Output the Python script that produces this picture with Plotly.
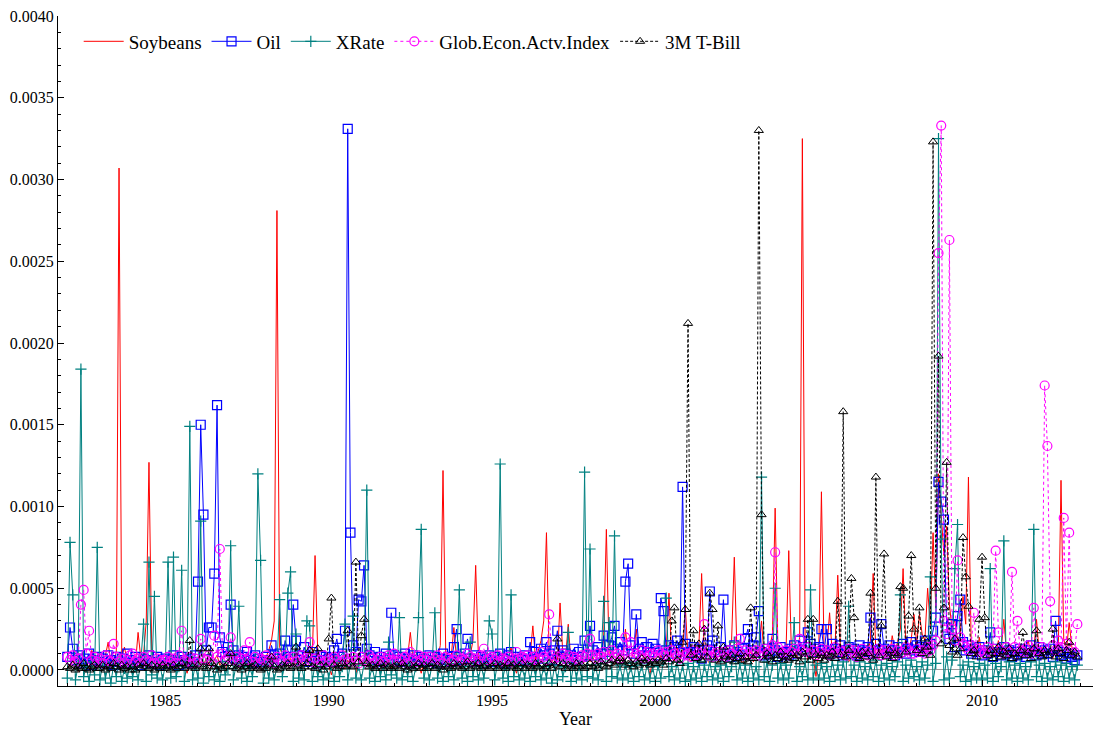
import plotly.graph_objects as go

# Monthly conditional variance estimates, Jan 1982 - Dec 2012.
# One row per calendar year (12 months each); values are in units of 1e-5.
UNIT = 1e-5
FIRST_YEAR = 1982
LAST_YEAR = 2012

SOYBEANS = [
    4, 2, 6, 3, -1, 5, 8, 3, 1, 12, 6, 2,            # 1982
    3, 5, 9, 17, 4, 6, 11, 307, 8, 14, 5, 2,         # 1983
    6, 3, 23, 7, 9, 30, 127, 12, 4, 6, 2, 5,         # 1984
    3, 7, 2, 5, 1, 4, 8, 3, -2, 5, 6, 3,             # 1985
    2, 5, 3, 7, 4, 1, 6, 9, 3, 5, -1, 4,             # 1986
    6, 3, 8, 2, 5, 4, 10, 7, 3, 2, 6, 4,             # 1987
    5, 8, 12, 18, 30, 281, 14, 9, 6, 4, 7, 3,        # 1988
    4, 6, 3, 9, 5, 12, 8, 70, 10, 5, 2, 6,           # 1989
    3, -3, 5, 2, 7, 4, 1, 6, 3, 8, -2, 4,            # 1990
    5, 2, 6, 3, -1, 4, 7, 2, 5, 3, 6, 1,             # 1991
    4, 7, 2, 5, 3, 8, 23, 6, 2, 4, -2, 5,            # 1992
    3, 6, 4, 9, 7, 15, 122, 11, 5, 8, 26, 6,         # 1993
    4, 2, 7, 5, 9, 18, 64, 8, 3, 6, 2, 4,            # 1994
    5, 3, 6, 2, 8, 4, 7, 14, 3, -2, 5, 6,            # 1995
    4, 7, 9, 27, 6, 12, 18, 30, 84, 9, 5, 8,         # 1996
    6, 41, 10, 7, 28, 5, 3, 8, 4, 2, 6, 9,           # 1997
    5, 8, 4, 12, 7, 19, 86, 10, 6, 3, 8, 5,          # 1998
    4, 25, 9, 6, 11, 25, 7, 3, 8, 5, -3, 6,          # 1999
    7, 4, 9, 6, 12, 47, 8, 5, 14, 6, 10, 39,         # 2000
    8, 5, 12, 7, 15, 59, 9, 6, 4, 11, 7, 5,          # 2001
    6, 9, 5, 13, 18, 69, 10, 7, 4, 8, 6, 12,         # 2002
    5, 8, 11, 30, 7, 9, 14, 22, 99, 15, 6, 10,       # 2003
    12, 73, 9, 14, 8, 20, 325, 18, 6, 11, 7, -4,     # 2004
    10, 109, 8, 13, 35, 9, 14, 58, 12, 6, 9, 5,      # 2005
    7, 12, 5, 9, 14, 8, 11, 18, 59, 10, 6, 13,       # 2006
    9, 14, 8, 21, 12, 17, 25, 62, 15, 11, 19, 34,    # 2007
    16, 34, 22, 18, 50, 27, 84, 38, 120, 95, 70, 88, # 2008
    40, 25, 31, 18, 22, 45, 28, 118, 16, 12, 9, 20,  # 2009
    8, 13, 6, 11, 15, 9, 18, 12, 31, 10, 7, 14,      # 2010
    11, 6, 15, 9, 13, 18, 8, 12, 31, 10, 14, 7,      # 2011
    9, 13, 7, 15, 11, 116, 19, 12, 29, 14, 8, 10,    # 2012
]

OIL = [
    8, 26, 13, 6, 9, 4, 7, 5, 10, 3, 6, 8,           # 1982
    5, 7, 4, 9, 6, 3, 8, 5, 7, 4, 10, 6,             # 1983
    4, 8, 5, 3, 7, 6, 9, 4, 5, 8, 3, 6,              # 1984
    7, 4, 6, 9, 5, 3, 8, 6, 4, 7, 5, 9,              # 1985
    54, 150, 95, 12, 26, 26, 59, 162, 20, 11, 8, 14, # 1986
    40, 12, 7, 9, 5, 8, 11, 6, 4, 9, 7, 5,           # 1987
    6, 8, 5, 15, 9, 7, 10, 6, 18, 12, 8, 40,         # 1988
    18, 9, 6, 14, 8, 5, 11, 7, 4, 9, 6, 8,           # 1989
    7, 5, 12, 19, 8, 10, 24, 331, 84, 15, 11, 43,    # 1990
    42, 64, 13, 9, 7, 11, 6, 8, 5, 10, 7, 35,        # 1991
    9, 6, 8, 5, 10, 7, 4, 9, 6, 8, 5, 7,             # 1992
    6, 9, 5, 8, 4, 7, 10, 6, 8, 5, 14, 25,           # 1993
    8, 6, 10, 19, 7, 5, 9, 6, 8, 4, 7, 9,            # 1994
    5, 8, 6, 10, 7, 4, 9, 11, 6, 8, 5, 7,            # 1995
    9, 6, 17, 8, 11, 7, 13, 9, 17, 10, 6, 12,        # 1996
    24, 8, 12, 10, 7, 9, 13, 6, 11, 8, 18, 9,        # 1997
    27, 12, 9, 14, 10, 21, 11, 15, 20, 27, 13, 17,   # 1998
    12, 54, 65, 15, 10, 34, 13, 17, 9, 14, 11, 16,   # 1999
    13, 9, 44, 36, 12, 15, 10, 14, 18, 11, 112, 16,  # 2000
    10, 11, 14, 9, 13, 7, 12, 15, 48, 18, 11, 9,     # 2001
    14, 43, 10, 12, 8, 15, 11, 9, 13, 19, 25, 12,    # 2002
    15, 20, 36, 11, 9, 13, 10, 19, 12, 8, 14, 10,    # 2003
    11, 9, 13, 15, 10, 18, 12, 14, 23, 16, 11, 13,   # 2004
    14, 25, 12, 25, 10, 16, 13, 11, 15, 9, 12, 14,   # 2005
    10, 13, 9, 15, 12, 11, 14, 32, 10, 16, 12, 28,   # 2006
    13, 10, 15, 12, 9, 14, 11, 16, 10, 13, 17, 12,   # 2007
    15, 11, 14, 18, 13, 16, 24, 32, 115, 103, 92, 26,  # 2008
    19, 28, 14, 33, 43, 17, 12, 15, 10, 13, 11, 14,  # 2009
    9, 12, 10, 23, 8, 13, 11, 9, 14, 10, 12, 8,      # 2010
    11, 9, 13, 10, 8, 12, 15, 11, 9, 14, 10, 12,     # 2011
    10, 13, 8, 30, 12, 9, 11, 7, 10, 8, 6, 9,        # 2012
]

XRATE = [
    -5, 78, 46, -6, 3, 184, -4, 2, -7, 5, -3, 75,    # 1982
    -6, 4, -5, 2, -8, 3, -4, 6, -7, 1, -5, 3,        # 1983
    -4, 2, -6, 5, 28, -7, 66, -3, 45, -5, 4, -6,     # 1984
    3, 66, -5, 69, -4, 2, 61, -7, 5, 149, -6, 3,     # 1985
    -5, 91, -8, 4, -4, 6, -6, 2, -7, 5, -3, 1,       # 1986
    76, -6, 3, 39, -5, 4, -7, 2, -4, 6, 120, 67,     # 1987
    -8, 3, -5, 5, -6, 2, 43, -4, 4, 47, 60, -7,      # 1988
    22, -5, 3, -6, 30, 27, -7, 4, -4, 2, -6, 5,      # 1989
    -5, 3, -7, 6, -4, 2, 28, -6, 4, 33, -5, 3,       # 1990
    -6, 4, 110, -5, 2, -7, 5, -4, 3, -6, 17, -3,     # 1991
    4, -5, 32, -6, 3, -4, 5, -7, 2, 32, 86, -5,      # 1992
    3, -6, 4, 35, -5, 2, -7, 6, -4, 3, -6, 4,        # 1993
    49, -5, 2, -7, 17, -4, 5, -6, 3, -5, 4, 30,      # 1994
    22, -6, 4, 126, -5, 3, -7, 46, -4, 5, -6, 2,     # 1995
    -5, 4, -7, 3, -4, 6, -6, 2, -5, 4, -8, 3,        # 1996
    -6, 5, -4, 2, 23, -7, 4, -5, 3, -6, 121, -4,     # 1997
    74, -5, 3, -6, 4, 42, -7, 29, -4, 82, -5, 3,     # 1998
    -6, 4, -5, 2, -7, 5, -4, 3, -6, 4, -5, 2,        # 1999
    -7, 3, -5, 6, 44, -4, 2, -6, 5, -5, 3, -7,       # 2000
    4, -6, 2, -5, 5, -7, 3, -4, 6, -6, 2, -5,        # 2001
    3, -7, 5, -4, 2, 17, -6, 4, -5, 3, -7, 6,        # 2002
    -5, 2, -6, 118, -4, 5, -7, 3, 50, -5, 4, -6,     # 2003
    3, -5, 6, 29, -7, 2, -4, 5, -6, 49, -5, 3,       # 2004
    -6, 4, -5, 2, -7, 6, -4, 3, -6, 5, -5, 39,       # 2005
    -4, 3, -7, 5, -5, 2, -6, 4, -4, 6, -7, 3,        # 2006
    -5, 4, -6, 2, -4, 5, 46, -7, 3, -5, 6, -4,       # 2007
    2, -6, 5, -5, 3, 57, -7, 4, 325, 80, -6, 8,      # 2008
    -5, 6, 62, 89, -4, 3, -7, 5, -6, 2, -5, 4,       # 2009
    -6, 3, -5, 62, -7, 4, -4, 2, 79, -6, 5, -5,      # 2010
    3, -7, 4, -5, 2, -6, 5, 86, -4, 3, -7, 4,        # 2011
    -5, 2, -6, 5, -4, 3, -7, 4, -5, 2, -6, 3,        # 2012
]

GLOB_ACTIVITY = [
    8, 6, 9, 5, 7, 40, 49, 10, 24, 6, 8, 5,          # 1982
    7, 4, 9, 6, 5, 16, 8, 5, 7, 4, 6, 9,             # 1983
    10, 5, 7, 4, 8, 6, 5, 9, 4, 7, 5, 6,             # 1984
    6, 8, 5, 7, 4, 9, 24, 6, 5, 8, 4, 7,             # 1985
    5, 19, 7, 6, 9, 5, 21, 8, 74, 10, 6, 8,          # 1986
    20, 6, 8, 5, 7, 12, 6, 17, 5, 8, 4, 7,           # 1987
    6, 9, 5, 7, 4, 8, 6, 5, 9, 7, 5, 8,              # 1988
    5, 7, 9, 6, 8, 17, 5, 7, 4, 6, 9, 5,             # 1989
    7, 5, 8, 6, 4, 9, 6, 7, 5, 8, 6, 4,              # 1990
    8, 6, 5, 9, 7, 4, 6, 8, 5, 7, 9, 6,              # 1991
    10, 5, 7, 6, 8, 4, 11, 7, 5, 9, 6, 8,            # 1992
    6, 8, 5, 7, 9, 6, 4, 8, 7, 5, 6, 9,              # 1993
    5, 7, 6, 10, 8, 5, 7, 6, 9, 13, 6, 7,            # 1994
    8, 6, 9, 5, 7, 6, 8, 5, 7, 11, 6, 8,             # 1995
    7, 9, 5, 8, 6, 7, 11, 8, 6, 34, 9, 7,            # 1996
    8, 6, 10, 7, 9, 5, 8, 7, 6, 9, 8, 10,            # 1997
    19, 9, 7, 10, 8, 11, 7, 9, 12, 8, 10, 7,         # 1998
    9, 20, 11, 17, 8, 10, 9, 12, 7, 11, 9, 10,       # 1999
    8, 12, 10, 9, 11, 8, 12, 10, 9, 7, 11, 9,        # 2000
    10, 8, 12, 9, 11, 10, 28, 9, 12, 8, 10, 11,      # 2001
    9, 11, 8, 12, 10, 9, 13, 19, 10, 12, 9, 11,      # 2002
    10, 12, 9, 11, 13, 10, 12, 15, 72, 14, 11, 10,   # 2003
    12, 9, 11, 13, 10, 19, 12, 11, 14, 10, 12, 9,    # 2004
    11, 13, 10, 12, 9, 11, 14, 10, 12, 11, 9, 13,    # 2005
    10, 12, 8, 11, 13, 10, 9, 12, 11, 10, 13, 9,     # 2006
    12, 10, 11, 13, 9, 12, 10, 11, 14, 12, 10, 10,   # 2007
    13, 11, 12, 10, 14, 12, 15, 18, 255, 333, 30, 22,  # 2008
    263, 25, 18, 67, 20, 16, 14, 12, 15, 35, 13, 11, # 2009
    12, 10, 14, 11, 13, 73, 23, 12, 10, 14, 11, 60,  # 2010
    14, 30, 12, 11, 13, 15, 10, 38, 12, 11, 14, 174, # 2011
    137, 42, 15, 12, 18, 14, 93, 16, 84, 13, 11, 28, # 2012
]

TBILL_3M = [
    2, 1, 3, 0, 2, 1, 4, 1, 0, 2, 3, 1,              # 1982
    1, 3, 0, 2, 1, 4, 2, 0, 3, 1, 2, 0,              # 1983
    2, 0, 3, 1, 4, 2, 1, 3, 0, 2, 1, 3,              # 1984
    1, 2, 0, 3, 1, 2, 4, 1, 3, 18, 2, 1,             # 1985
    3, 13, 2, 1, 13, 4, 2, 0, 3, 1, 2, 4,            # 1986
    10, 2, 1, 3, 0, 2, 4, 1, 2, 3, 1, 0,             # 1987
    2, 1, 3, 8, 2, 0, 1, 3, 2, 4, 1, 2,              # 1988
    14, 3, 1, 2, 4, 12, 2, 1, 13, 3, 0, 2,           # 1989
    19, 44, 3, 1, 2, 4, 2, 24, 3, 2, 66, 5,          # 1990
    21, 31, 4, 2, 3, 1, 2, 4, 1, 3, 2, 1,            # 1991
    2, 3, 1, 4, 2, 0, 3, 1, 2, 4, 1, 3,              # 1992
    1, 2, 4, 1, 3, 2, 0, 3, 2, 1, 4, 2,              # 1993
    3, 1, 2, 5, 1, 3, 2, 4, 1, 2, 3, 1,              # 1994
    2, 4, 1, 3, 2, 1, 4, 2, 3, 1, 2, 4,              # 1995
    1, 3, 2, 1, 4, 2, 3, 1, 2, 4, 1, 3,              # 1996
    19, 2, 4, 1, 3, 2, 1, 4, 2, 3, 1, 2,             # 1997
    4, 2, 3, 1, 5, 3, 2, 4, 6, 3, 5, 7,              # 1998
    5, 3, 6, 4, 2, 5, 3, 7, 4, 6, 3, 5,              # 1999
    4, 6, 5, 3, 7, 5, 30, 38, 6, 4, 17, 37,          # 2000
    212, 9, 24, 7, 16, 6, 25, 8, 47, 37, 6, 27,      # 2001
    5, 14, 8, 6, 9, 5, 7, 10, 6, 8, 5, 38,           # 2002
    7, 9, 330, 95, 6, 10, 8, 5, 9, 7, 11, 6,         # 2003
    8, 6, 10, 7, 9, 5, 11, 8, 31, 6, 31, 9,          # 2004
    7, 10, 6, 9, 8, 11, 7, 42, 9, 158, 8, 12,        # 2005
    56, 32, 9, 7, 11, 8, 10, 47, 6, 118, 9, 27,      # 2006
    71, 8, 12, 7, 10, 9, 51, 50, 11, 33, 70, 25,     # 2007
    12, 38, 10, 19, 14, 9, 323, 50, 192, 16, 38, 127,  # 2008
    15, 11, 19, 9, 13, 81, 57, 39, 10, 12, 8, 31,    # 2009
    69, 32, 9, 12, 7, 10, 14, 8, 11, 9, 13, 7,       # 2010
    10, 8, 12, 23, 9, 11, 7, 13, 24, 10, 8, 12,      # 2011
    9, 11, 25, 8, 13, 10, 7, 12, 17, 9, 11, 8,       # 2012
]

# Decimal-year position of each monthly observation
months = [y + m / 12 for y in range(FIRST_YEAR, LAST_YEAR + 1) for m in range(12)]

SERIES = [
    ("Soybeans", SOYBEANS, dict(color="#ff0000", width=1), None),
    ("Oil", OIL, dict(color="#0000ff", width=1),
     dict(symbol="square-open", size=9, color="#0000ff", line=dict(width=1.2))),
    ("XRate", XRATE, dict(color="#008080", width=1),
     dict(symbol="cross-thin", size=8, color="#008080", line=dict(width=1.2, color="#008080"))),
    ("Glob.Econ.Actv.Index", GLOB_ACTIVITY, dict(color="#ff00ff", width=1, dash="dot"),
     dict(symbol="circle-open", size=9, color="#ff00ff", line=dict(width=1.2))),
    ("3M T-Bill", TBILL_3M, dict(color="#000000", width=1, dash="3px,2px"),
     dict(symbol="triangle-up-open", size=8, color="#000000", line=dict(width=1))),
]

fig = go.Figure()
for name, vals, line, marker in SERIES:
    fig.add_trace(go.Scatter(
        x=months,
        y=[v * UNIT for v in vals],
        name=name,
        mode="lines" if marker is None else "lines+markers",
        line=line,
        marker=marker,
    ))

serif = "Liberation Serif"

fig.update_layout(
    width=1093,
    height=731,
    margin=dict(l=58, r=0, t=16, b=45),
    paper_bgcolor="white",
    plot_bgcolor="white",
    font=dict(family=serif, size=15, color="black"),
    showlegend=True,
    legend=dict(
        orientation="h",
        x=0.02, y=0.962,
        xanchor="left", yanchor="middle",
        bgcolor="rgba(0,0,0,0)",
        font=dict(family=serif, size=19, color="black"),
        itemwidth=40,
    ),
    xaxis=dict(
        range=[1981.715, 2013.396],
        showgrid=False,
        zeroline=False,
        showline=True,
        linecolor="black",
        linewidth=1,
        ticks="inside",
        ticklen=6,
        tickcolor="black",
        tick0=1985,
        dtick=5,
        tickformat="d",
        tickfont=dict(family=serif, size=16),
        minor=dict(ticks="inside", ticklen=3, dtick=1, tick0=1982, tickcolor="black"),
        title=dict(text="Year", font=dict(family=serif, size=18), standoff=4),
    ),
    yaxis=dict(
        range=[-0.0000979, 0.0040],
        showgrid=False,
        zeroline=True,
        zerolinecolor="#9a9a9a",
        zerolinewidth=1,
        showline=True,
        linecolor="black",
        linewidth=1,
        ticks="inside",
        ticklen=6,
        tickcolor="black",
        tick0=0,
        dtick=0.0005,
        tickformat=".4f",
        tickfont=dict(family=serif, size=16),
        minor=dict(ticks="inside", ticklen=3, dtick=0.0001, tick0=0, tickcolor="black"),
    ),
)

fig.write_html("out.html")
